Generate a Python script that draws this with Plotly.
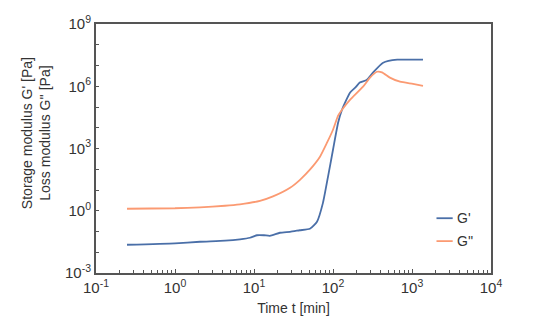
import plotly.graph_objects as go

# ---- data ----
t_storage = [0.247, 1.0, 2.07, 4.3, 6.65, 8.9, 10.9, 13.4, 15.9, 21.3, 28.6, 38, 51, 62.7,
             74.6, 86.4, 100, 116, 130, 164, 191, 218, 267, 320, 431, 650, 1378]
g_storage = [0.023, 0.027, 0.032, 0.036, 0.042, 0.050, 0.066, 0.066, 0.062, 0.087, 0.097,
             0.115, 0.135, 0.295, 2.4, 43, 870, 17400, 74000, 4.9e5, 8.5e5, 1.5e6, 2.0e6,
             4.5e6, 1.35e7, 1.9e7, 1.9e7]

t_loss = [0.247, 1.0, 2.07, 4.3, 6.65, 11.9, 17.4, 28.6, 38.2, 51, 68.4, 84, 100, 116, 130,
          164, 240, 294, 360, 417, 525, 705, 1030, 1378]
g_loss = [1.25, 1.32, 1.47, 1.74, 2.05, 3.0, 4.9, 12.8, 31, 95, 400, 1900, 8000, 38000,
          74000, 2.2e5, 9.5e5, 2.6e6, 5.0e6, 4.7e6, 2.6e6, 1.65e6, 1.3e6, 1.05e6]

series_names = ["G'", "G''"]
series_colors = ["#4a6fa8", "#fb9a72"]

x_tickvals = [0.1, 1, 10, 100, 1000, 10000]
x_ticktext = ["10<sup>-1</sup>", "10<sup>0</sup>", "10<sup>1</sup>", "10<sup>2</sup>",
              "10<sup>3</sup>", "10<sup>4</sup>"]
x_minor_vals = [m * d for d in [0.1, 1, 10, 100, 1000] for m in range(2, 10)]
y_tickvals = [10.0 ** e for e in range(-3, 10)]
y_ticktext = [("10<sup>%d</sup>" % e) if e % 3 == 0 else "" for e in range(-3, 10)]

FONT = "Liberation Sans, Arial, Helvetica, sans-serif"
AX = "#555555"
TXT = "#333333"

fig = go.Figure()
fig.add_trace(go.Scatter(x=t_storage, y=g_storage, mode="lines", name=series_names[0],
                         line=dict(color=series_colors[0], width=1.8, shape="spline", smoothing=0.5),
                         showlegend=False))
fig.add_trace(go.Scatter(x=t_loss, y=g_loss, mode="lines", name=series_names[1],
                         line=dict(color=series_colors[1], width=1.8, shape="spline", smoothing=0.5),
                         showlegend=False))

# manual legend
leg_y = [0.22, 0.128]
for name, col, yy in zip(series_names, series_colors, leg_y):
    fig.add_shape(type="line", xref="paper", yref="paper", x0=0.862, x1=0.903, y0=yy, y1=yy,
                  line=dict(color=col, width=1.8))
    fig.add_annotation(xref="paper", yref="paper", x=0.908, y=yy, text=name, showarrow=False,
                       xanchor="left", yanchor="middle", font=dict(size=14, color=TXT, family=FONT))

# y title (two lines)
fig.add_annotation(xref="paper", yref="paper", x=-0.153, y=0.56, xanchor="center", yanchor="middle",
                   text="Storage modulus G' [Pa]<br>Loss modulus G'' [Pa]", textangle=-90,
                   showarrow=False, font=dict(size=14, color=TXT, family=FONT))

fig.update_layout(
    width=547, height=327,
    margin=dict(l=96, r=56, t=24, b=54),
    paper_bgcolor="white", plot_bgcolor="white",
    font=dict(family=FONT, color=TXT, size=14),
)
fig.update_xaxes(
    type="log", range=[-1, 4], tickvals=x_tickvals, ticktext=x_ticktext,
    showline=True, linecolor=AX, linewidth=2, mirror=True, showgrid=False, zeroline=False,
    ticks="inside", ticklen=4, tickcolor=AX,
    minor=dict(ticks="inside", ticklen=3, tickcolor=AX, tickvals=x_minor_vals, showgrid=False),
    title=dict(text="Time t [min]", font=dict(size=14, color=TXT), standoff=8),
    tickfont=dict(size=15, color=TXT),
)
fig.update_yaxes(
    type="log", range=[-3, 9], tickvals=y_tickvals, ticktext=y_ticktext,
    showline=True, linecolor=AX, linewidth=2, mirror=True, showgrid=False, zeroline=False,
    ticks="inside", ticklen=3, tickcolor=AX,
    tickfont=dict(size=15, color=TXT),
)

fig.write_html("out.html")
